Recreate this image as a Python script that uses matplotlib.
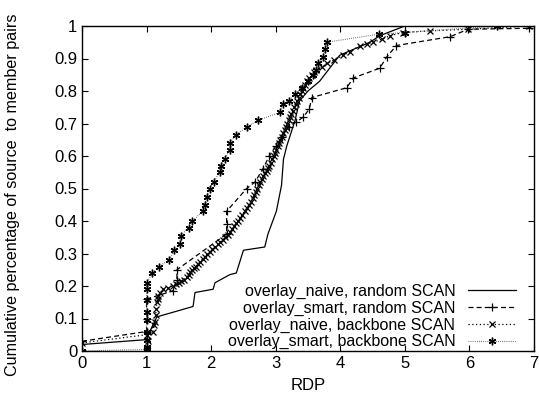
import matplotlib
matplotlib.use("Agg")
import matplotlib.pyplot as plt

plt.rcParams['font.family'] = ['Liberation Sans', 'DejaVu Sans']
plt.rcParams['font.size'] = 12

# overlay_naive, random SCAN (solid)
naive_rand_x = [0, 1.0, 1.0, 1.16, 1.72, 1.75, 2.03, 2.06, 2.29, 2.39, 2.50, 2.83, 2.88,
                3.01, 3.07, 3.09, 3.12, 3.17, 3.30, 3.37, 3.50, 3.68, 3.99, 4.46, 4.61, 5.0]
naive_rand_y = [0.02, 0.035, 0.04, 0.105, 0.137, 0.18, 0.19, 0.21, 0.235, 0.24, 0.31, 0.32, 0.36,
                0.43, 0.49, 0.51, 0.59, 0.63, 0.71, 0.77, 0.80, 0.83, 0.91, 0.95, 0.97, 1.0]

# overlay_smart, random SCAN (dashed, +)
smart_rand_x = [0, 1.0, 1.0, 1.0, 1.41, 1.47, 1.47, 2.24, 2.24, 2.24, 2.55, 2.68, 2.80, 2.90,
                3.00, 3.10, 3.20, 3.32, 3.43, 3.52, 3.56, 4.10, 4.20, 4.61, 4.72, 4.87, 5.70,
                5.98, 6.93]
smart_rand_y = [0.03, 0.06, 0.10, 0.16, 0.185, 0.22, 0.25, 0.36, 0.39, 0.43, 0.50, 0.52, 0.56, 0.60,
                0.63, 0.66, 0.69, 0.705, 0.72, 0.745, 0.78, 0.81, 0.84, 0.87, 0.905, 0.94, 0.967,
                0.99, 0.993]

# overlay_naive, backbone SCAN (dotted, x)
naive_bb_x = [0, 1.0, 1.02, 1.10, 1.12, 1.13, 1.14, 1.15, 1.16, 1.17, 1.18, 1.21,
              1.26, 1.33, 1.41, 1.46, 1.50, 1.54, 1.58, 1.62, 1.65, 1.68, 1.70, 1.73, 1.76,
              1.80, 1.83, 1.87, 1.90, 1.94, 1.98, 2.02, 2.06, 2.10, 2.14, 2.18, 2.22, 2.26,
              2.29, 2.33, 2.36, 2.39, 2.42, 2.45, 2.48, 2.52, 2.55, 2.59, 2.62, 2.65, 2.67,
              2.69, 2.71, 2.74, 2.76, 2.79, 2.81, 2.84, 2.86, 2.88, 2.90, 2.92, 2.94, 2.97,
              2.99, 3.01, 3.03, 3.05, 3.07, 3.09, 3.11, 3.14, 3.16, 3.18, 3.20, 3.22, 3.24,
              3.27, 3.29, 3.31, 3.33, 3.36, 3.38, 3.40, 3.43, 3.46, 3.49, 3.52, 3.56, 3.60,
              3.63, 3.72, 3.79, 3.90, 4.04, 4.15, 4.30, 4.42, 4.51, 4.65, 4.77, 4.97, 5.39,
              5.98, 6.93]
naive_bb_y = [0.025, 0.05, 0.03, 0.06, 0.08, 0.09, 0.11, 0.13, 0.15, 0.16, 0.17, 0.18,
              0.19, 0.195, 0.20, 0.205, 0.21, 0.215, 0.22, 0.228, 0.235, 0.242, 0.25, 0.255, 0.26,
              0.268, 0.275, 0.283, 0.29, 0.298, 0.305, 0.313, 0.32, 0.328, 0.335, 0.343, 0.35, 0.358,
              0.365, 0.375, 0.385, 0.393, 0.40, 0.41, 0.42, 0.43, 0.44, 0.45, 0.46, 0.47, 0.48,
              0.49, 0.50, 0.51, 0.52, 0.53, 0.54, 0.548, 0.555, 0.563, 0.57, 0.58, 0.59, 0.60,
              0.61, 0.62, 0.63, 0.64, 0.65, 0.66, 0.67, 0.68, 0.69, 0.70, 0.71, 0.72, 0.73,
              0.74, 0.75, 0.76, 0.77, 0.78, 0.79, 0.80, 0.81, 0.82, 0.83, 0.84, 0.85, 0.858,
              0.865, 0.875, 0.885, 0.895, 0.91, 0.92, 0.94, 0.945, 0.95, 0.96, 0.97, 0.98, 0.985,
              0.99, 1.0]

# overlay_smart, backbone SCAN (fine dotted, *)
smart_bb_x = [0, 1.0, 1.0, 1.0, 1.0, 1.0, 1.0, 1.0, 1.0, 1.0, 1.09, 1.19, 1.35, 1.43, 1.51, 1.53,
              1.65, 1.71, 1.87, 1.90, 1.93, 1.98, 2.04, 2.13, 2.16, 2.21, 2.29, 2.29, 2.38,
              2.56, 2.73, 3.07, 3.11, 3.20, 3.30, 3.40, 3.50, 3.57, 3.63, 3.66, 3.74, 3.76,
              3.79, 4.60, 5.0, 6.42]
smart_bb_y = [0.0, 0.005, 0.013, 0.034, 0.06, 0.095, 0.12, 0.157, 0.19, 0.21, 0.24, 0.26, 0.28, 0.31,
              0.33, 0.355, 0.38, 0.40, 0.43, 0.45, 0.475, 0.50, 0.52, 0.55, 0.57, 0.59, 0.62,
              0.64, 0.665, 0.69, 0.71, 0.735, 0.76, 0.77, 0.79, 0.81, 0.83, 0.85, 0.865, 0.885,
              0.905, 0.93, 0.95, 0.975, 0.98, 1.0]

labels = ['overlay_naive, random SCAN', 'overlay_smart, random SCAN',
          'overlay_naive, backbone SCAN', 'overlay_smart, backbone SCAN']

fig = plt.figure(figsize=(5.39, 4.01), dpi=100)
ax = fig.add_axes([82 / 539, 50 / 401, 452 / 539, 325 / 401])

ax.plot(naive_rand_x, naive_rand_y, color='black', lw=0.9, label=labels[0])
ax.plot(smart_rand_x, smart_rand_y, color='black', lw=0.9, ls=(0, (4, 2.5)),
        marker='+', ms=6, mew=0.9, label=labels[1])
ax.plot(naive_bb_x, naive_bb_y, color='black', lw=0.9, ls=(0, (1, 2)),
        marker='x', ms=4.5, mew=0.9, label=labels[2])
ax.plot(smart_bb_x, smart_bb_y, color='#555555', lw=0.8, ls=(0, (0.7, 1.2)),
        marker=(6, 2, 0), ms=5.5, mew=1.0, mec='black', label=labels[3])

ax.set_xlim(0, 7)
ax.set_ylim(0, 1)
ax.set_xticks(range(8))
ax.set_yticks([i / 10 for i in range(11)])
ax.set_yticklabels(['0', '0.1', '0.2', '0.3', '0.4', '0.5', '0.6', '0.7', '0.8', '0.9', '1'])
ax.tick_params(direction='in', top=True, right=True, length=4, width=0.8)
for s in ax.spines.values():
    s.set_linewidth(1.0)

ax.set_xlabel('RDP', labelpad=5)
ax.set_ylabel('Cumulative percentage of source  to member pairs', fontsize=11.6)
ax.yaxis.set_label_coords(-0.138, 0.48)

leg = ax.legend(loc='lower right', bbox_to_anchor=(0.96, 0.005), frameon=False,
                markerfirst=False, handlelength=3.0, handletextpad=0.8,
                labelspacing=0.1, borderpad=0, borderaxespad=0, fontsize=11.5)
for col in leg._legend_handle_box.get_children():
    col.align = 'right'

fig.savefig('out.png', dpi=100)
